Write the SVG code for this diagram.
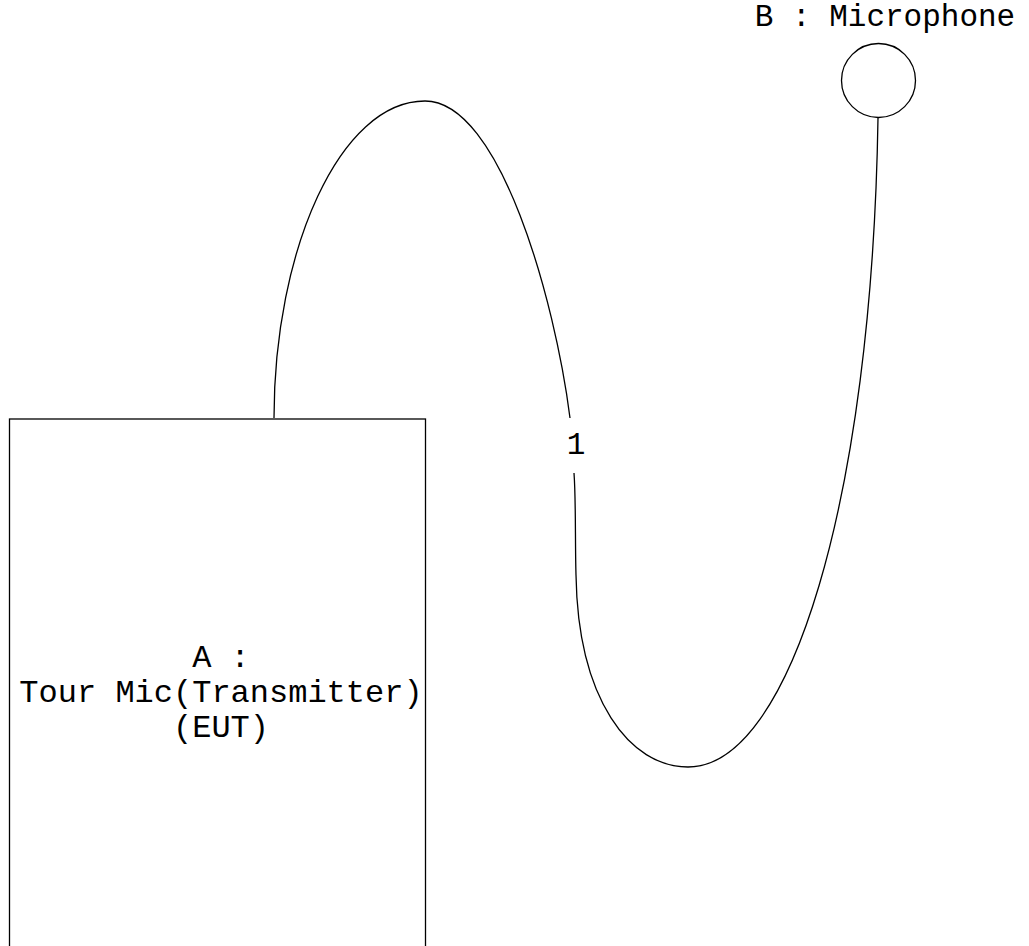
<svg xmlns="http://www.w3.org/2000/svg" width="1029" height="946" viewBox="0 0 1029 946">
  <style>
    .shape { fill: #ffffff; stroke: #000000; stroke-width: 1.3; }
    .wire { fill: none; stroke: #000000; stroke-width: 1.3; }
    .label { font-family: "Liberation Mono", "Courier New", monospace; font-size: 31px; fill: #000000; }
    .box-label { font-size: 32px; }
  </style>
  <rect width="1029" height="946" fill="#ffffff"/>

  <!-- connectors -->
  <g id="connectors">
    <path class="wire" d="M274,418 C274,250 340,101 425,101 C500,101 555,300 570,418"/>
    <path class="wire" d="M574,473 C576,500 575,540 576,575 C578,700 630,767 688,767 C790,767 872,500 878,118"/>
    <text class="label" x="576" y="454" text-anchor="middle">1</text>
  </g>

  <!-- A: transmitter -->
  <g id="nodeA">
    <rect class="shape" x="9.5" y="419" width="416" height="560"/>
    <text class="label box-label" x="221" y="666.5" text-anchor="middle">A :</text>
    <text class="label box-label" x="221" y="701.5" text-anchor="middle">Tour Mic(Transmitter)</text>
    <text class="label box-label" x="221" y="736.5" text-anchor="middle">(EUT)</text>
  </g>

  <!-- B: microphone -->
  <g id="nodeB">
    <circle class="shape" cx="878.5" cy="80.5" r="37"/>
    <text class="label" x="885" y="26" text-anchor="middle">B : Microphone</text>
  </g>
</svg>
